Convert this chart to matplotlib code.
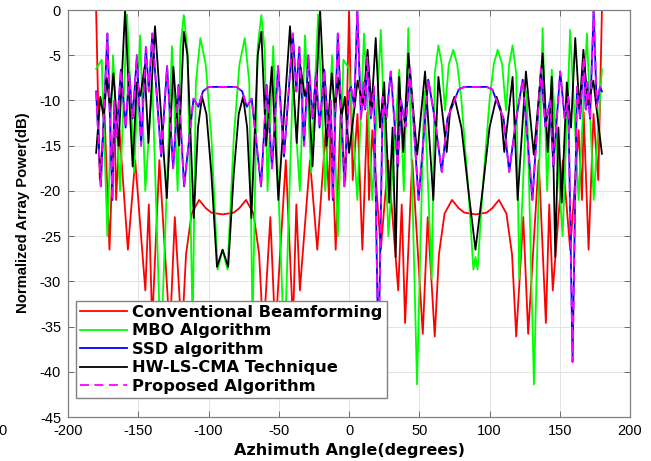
import matplotlib
matplotlib.use("Agg")
import matplotlib.pyplot as plt

# values (angle in degrees, normalized power in dB),
# one point per lobe peak / null of each curve (plus a few shoulder points on wide lobes)

conv_ang = [-180, -177.4, -174, -170.5, -167, -165.8, -163.4, -157.4, -152.2, -145, -142.5, -140.1,
            -135, -127.5, -124, -119, -116, -112, -106.7, -102, -98, -90, -82, -78, -73.3, -68,
            -64, -61, -56, -52.5, -45, -39.9, -37.5, -35, -27.8, -22.6, -16.6, -14.2, -13, -9.5,
            -6, -2.6, 0, 2.6, 6, 9.5, 13, 14.2, 16.6, 22.6, 27.8, 35, 37.5, 39.9, 45, 52.5, 56,
            61, 64, 68, 73.3, 78, 82, 90, 98, 102, 106.7, 112, 116, 119, 124, 127.5, 135, 140.1,
            142.5, 145, 152.2, 157.4, 163.4, 165.8, 167, 170.5, 174, 177.4, 180]
conv_db = [0, -18.8, -11.5, -26.5, -11.3, -21, -13.3, -26.5, -16.6, -31, -21.5, -34.6,
           -16.6, -35.8, -22.9, -36.1, -27, -22.5, -21.0, -21.9, -22.4, -22.6, -22.4, -21.9, -21.0, -22.5,
           -27, -36.1, -22.9, -35.8, -16.6, -34.6, -21.5, -31, -16.6, -26.5, -13.3, -21, -11.3, -26.5,
           -11.5, -18.8, 0, -18.8, -11.5, -26.5, -11.3, -21, -13.3, -26.5, -16.6, -31, -21.5, -34.6, -16.6, -35.8, -22.9,
           -36.1, -27, -22.5, -21.0, -21.9, -22.4, -22.6, -22.4, -21.9, -21.0, -22.5, -27, -36.1, -22.9, -35.8, -16.6, -34.6,
           -21.5, -31, -16.6, -26.5, -13.3, -21, -11.3, -26.5, -11.5, -18.8, 0]

mbo_ang = [-180, -176, -172, -168, -163, -158, -153, -148.7, -145, -140, -134, -126, -122, -120, -117.6,
           -115, -111.3, -109, -105.8, -102, -98, -93.5, -90, -86.5, -82, -78, -74.2, -71, -68.7, -65,
           -62.4, -60, -58, -54, -46, -40, -35, -31.3, -27, -22, -17, -12, -8, -4, 0, 5.9, 10.7, 16.6,
           22.6, 28, 35.7, 39, 42.2, 48.4, 53.5, 58.9, 61, 63.6, 66, 68.3, 71, 74.2, 77, 80, 85, 88.5,
           90, 91.5, 95, 100, 103, 105.8, 109, 111.7, 114, 116.4, 119, 121.1, 126.5, 131.6, 137.8, 141,
           144.3, 152, 157.4, 163.4, 169.3, 174.1, 180]
mbo_db = [-6.5, -5.5, -25, -5, -20, -0.5, -18, -2.8, -20, -8, -38, -4, -20, -4, -0.55,
          -4.5, -35, -8, -3.1, -6, -14, -28.7, -26.5, -28.7, -14, -6, -3.1, -8, -35, -4,
          -0.55, -4.5, -20, -4, -38, -8, -20, -2.8, -18, -0.5, -20, -5, -25, -5.5, -6.5, -21, -2.6, -21,
          -2.2, -25, -6.6, -20, -2.0, -41.4, -9, -29.7, -7, -3.9, -6, -11.1, -6, -4.4, -6, -10, -20, -28.7,
          -27.3, -28.7, -20, -10, -6, -4.4, -6, -11.1, -6, -3.9, -7, -29.7, -9, -41.4, -2.0, -20,
          -6.6, -25, -2.2, -21, -2.6, -21, -6.5]

ssd_ang = [-180, -176.7, -172, -168.4, -167, -165.5, -162.4, -159, -156.5, -154, -151, -148, -144.6,
           -142.5, -140, -133.7, -129.5, -125.2, -121.4, -117.4, -110.7, -107.2, -104, -100, -90,
           -80, -76, -72.8, -69.3, -62.6, -58.6, -54.8, -50.5, -46.3, -40, -37.5, -35.4, -32, -29,
           -26, -23.5, -21, -17.6, -14.5, -13, -11.6, -8, -3.3, 0, 1.4, 3.7, 5.9, 8.5, 10.5, 11.5,
           13, 15.5, 17.8, 20.9, 24, 26.5, 29.7, 34.6, 37, 40.2, 43.4, 49.5, 56.4, 61, 66, 70, 73.3,
           78, 82, 90, 98, 102, 106.7, 110, 114, 119, 123.6, 130.5, 136.6, 139.8, 143, 145.4, 150.3,
           153.5, 156, 159.1, 162.2, 164.5, 167, 168.5, 169.5, 171.5, 174.1, 176.3, 178.6, 180]
ssd_db = [-9, -19.5, -2.6, -21, -10, -14, -6.6, -13, -7, -12, -5, -15, -4.1,
          -9, -2.6, -16.2, -6.2, -17.5, -8.3, -19.5, -9.8, -10.7, -9, -8.5, -8.5,
          -8.5, -9, -10.7, -9.8, -19.5, -8.3, -17.5, -6.2, -16.2, -2.6, -9, -4.1, -15, -5,
          -12, -7, -13, -6.6, -14, -10, -21, -2.6, -19.5, -9, -8.5, -10.7, 0, -12, -8, -11,
          -5.2, -12, -8.5, -38.9, -9.6, -12, -6.8, -17.3, -10, -12.9, -6.5, -21, -7.7, -12, -17.9, -12, -10.7,
          -8.8, -8.5, -8.5, -8.5, -8.8, -10.7, -12, -17.9, -12, -7.7, -21, -6.5, -12.9, -10, -17.3, -6.8,
          -12, -9.6, -38.9, -8.5, -12, -5.2, -11, -8, -12, 0, -10.7, -8.5, -9]

hw_ang = [-180, -177, -174.5, -172.5, -170, -167.7, -164, -159.4, -157, -154, -151, -148.5, -145.5,
          -142.8, -138.1, -129.7, -125, -121, -117.6, -115, -110.5, -107.5, -104.6, -101.5, -98, -94,
          -90, -86, -82, -78.5, -75.4, -72.5, -69.5, -65, -62.4, -59, -55, -50.3, -42, -37.2, -34.5,
          -31.5, -29, -26, -23, -20.6, -16, -12.3, -10, -7.5, -5.5, -3, 0, 3, 6.1, 10, 13.2, 16, 19,
          22, 25, 28.6, 31, 33.2, 35.7, 38.6, 42.2, 48.5, 54.1, 60, 63.6, 69.5, 72, 75, 80, 85, 90,
          95, 100, 105, 108, 110.5, 116.4, 120, 125.9, 131.5, 137.8, 141.4, 144.3, 146.8, 149, 151.4,
          155, 158, 161, 164, 166.8, 170, 173.9, 177, 180]
hw_db = [-15.8, -9.6, -12, -7.5, -11, -7, -15, 0, -8, -17.3, -8, -9.5, -6.3,
         -14.7, -1.8, -20.8, -6.3, -15, -2.4, -5, -23, -13, -9.6, -11.5, -18, -28.4,
         -26.5, -28.4, -18, -11.5, -9.6, -13, -23, -5, -2.4, -15, -6.3, -21, -1.8, -14.7, -6.3,
         -9.5, -8, -17.3, -8, 0, -15, -7, -11, -7.5, -12, -9.6, -15.8, -12, -7.8, -10.5, -4.4, -11, -3.1,
         -13, -8, -21.3, -13, -27.3, -7.4, -15.7, -4.8, -16, -6.8, -21, -7.4, -15.7, -11, -9.6, -13, -20, -26.5,
         -20, -13, -9.6, -11, -15.7, -7.4, -21, -6.8, -16, -4.8, -15.7, -7.4, -27.3, -13, -21.3,
         -8, -13, -3.1, -11, -4.4, -10.5, -7.8, -12, -15.9]

# proposed algorithm lies exactly on the SSD curve in the figure
prop_ang = ssd_ang
prop_db = ssd_db

plt.rcParams['font.family'] = 'Liberation Sans'
plt.rcParams['axes.unicode_minus'] = False

fig = plt.figure(figsize=(6.51, 4.61), dpi=100)
ax = fig.add_axes([0.1045, 0.0954, 0.8633, 0.8829])

lw = 1.3
ax.plot(conv_ang, conv_db, color='#ff0000', lw=lw, label='Conventional Beamforming')
ax.plot(mbo_ang, mbo_db, color='#00ff00', lw=lw, label='MBO Algorithm')
ax.plot(ssd_ang, ssd_db, color='#0000ff', lw=lw, label='SSD algorithm')
ax.plot(hw_ang, hw_db, color='black', lw=lw, label='HW-LS-CMA Technique')
ax.plot(prop_ang, prop_db, color='#ff00ff', lw=lw, ls=(0, (5, 3)), label='Proposed Algorithm')

ax.set_xlim(-200, 200)
ax.set_ylim(-45, 0)
ax.set_xticks(range(-200, 201, 50))
ax.set_yticks(range(-45, 1, 5))
ax.grid(True, color='#e4e4e4', lw=0.7)
ax.set_axisbelow(True)
ax.tick_params(direction='in', top=True, right=True, length=4, width=0.6,
               color='#555555', labelsize=10.5, pad=5)
for s in ax.spines.values():
    s.set_color('#7f7f7f')
    s.set_linewidth(0.9)

leg = ax.legend(loc='lower left', bbox_to_anchor=(0.0142, 0.0467), borderaxespad=0,
                prop={'family': 'DejaVu Sans', 'weight': 'bold', 'size': 11.7},
                handlelength=2.9, handletextpad=0.3, labelspacing=0.22,
                borderpad=0.25, fancybox=False, edgecolor='#808080', framealpha=1)
leg.get_frame().set_linewidth(1.0)

fig.text(349 / 651, 1 - 450 / 461, 'Azhimuth Angle(degrees)', ha='center', va='center',
         family='DejaVu Sans', weight='bold', fontsize=11.5)
fig.text(23 / 651, 1 - 213 / 461, 'Normalized Array Power(dB)', ha='center', va='center',
         rotation=90, weight='bold', fontsize=10.7)
fig.text(7 / 651, 1 - 431 / 461, '0', ha='right', va='center', fontsize=10.5)

fig.savefig('out.png', dpi=100)
